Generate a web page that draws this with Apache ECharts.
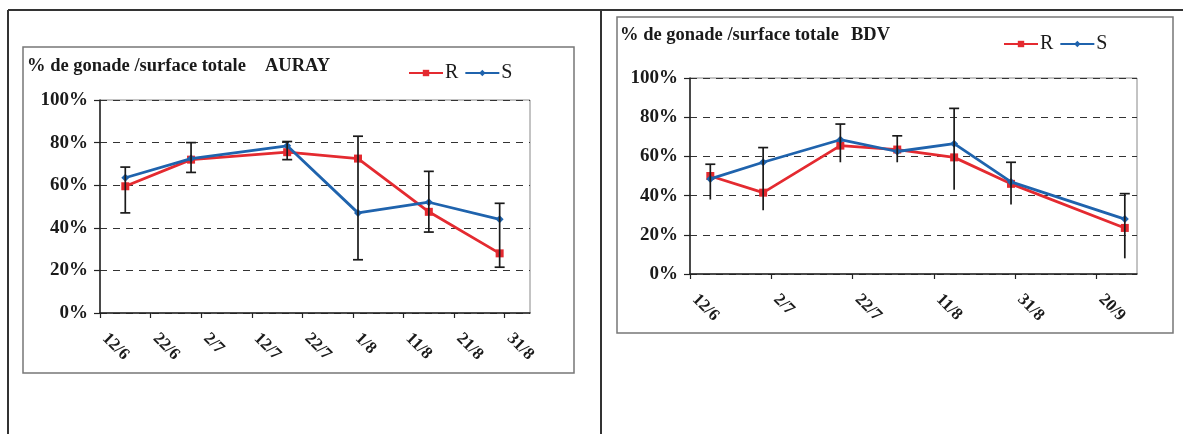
<!DOCTYPE html>
<html>
<head>
<meta charset="utf-8">
<script src="https://cdn.jsdelivr.net/npm/echarts@6/dist/echarts.min.js"></script>
<style>
html,body{margin:0;padding:0;background:#fff;}
#c{width:1183px;height:434px;}
</style>
</head>
<body>
<div id="c"></div>
<script>
// ---- Data ----
var seriesNames = ['R', 'S'];

var leftTitle = '% de gonade /surface totale';
var leftSite = 'AURAY';
var leftDates = ['17/6', '30/6', '19/7', '2/8', '16/8', '30/8'];
var leftR = [59.5, 72, 75.5, 72.5, 47.5, 28];
var leftS = [63.5, 72.5, 78.5, 47, 52, 44];
var leftErrLow = [47, 66, 72, 25, 38, 21.5];
var leftErrHigh = [68.5, 80, 80.5, 83, 66.5, 51.5];
var leftTicks = ['12/6', '22/6', '2/7', '12/7', '22/7', '1/8', '11/8', '21/8', '31/8'];

var rightTitle = '% de gonade /surface totale';
var rightSite = 'BDV';
var rightDates = ['17/6', '30/6', '19/7', '2/8', '16/8', '30/8', '27/9'];
var rightR = [50, 41.5, 65.5, 63.5, 59.5, 46, 23.5];
var rightS = [48.5, 57, 68.5, 62.5, 66.5, 47, 28];
var rightErrLow = [38, 32.5, 57, 57, 43, 35.5, 8];
var rightErrHigh = [56, 64.5, 76.5, 70.5, 84.5, 57, 41];
var rightTicks = ['12/6', '2/7', '22/7', '11/8', '31/8', '20/9'];

// ---- helpers ----
var ORIGIN = '12/6';
function dayNum(s) {
  var p = s.split('/');
  return Date.UTC(2000, +p[1] - 1, +p[0]) / 86400000;
}
function offset(s) { return dayNum(s) - dayNum(ORIGIN); }
function pairs(dates, vals) { return dates.map(function (d, i) { return [offset(d), vals[i]]; }); }
function errs(dates, lo, hi) { return dates.map(function (d, i) { return [offset(d), lo[i], hi[i]]; }); }
function tickVals(ticks) { return ticks.map(function (t) { return offset(t); }); }

var RED = '#e42a30';
var BLUE = '#1f63ad';
var SERIF = '"Liberation Serif", "DejaVu Serif", serif';

function errRender(bottomCap) {
  return function (params, api) {
    var x = api.value(0);
    var p1 = api.coord([x, api.value(1)]);
    var p2 = api.coord([x, api.value(2)]);
    var w = 5;
    var st = { stroke: '#1a1a1a', lineWidth: 1.7 };
    var ch = [
      { type: 'line', shape: { x1: p1[0], y1: p1[1], x2: p2[0], y2: p2[1] }, style: st },
      { type: 'line', shape: { x1: p2[0] - w, y1: p2[1], x2: p2[0] + w, y2: p2[1] }, style: st }
    ];
    if (bottomCap) ch.push({ type: 'line', shape: { x1: p1[0] - w, y1: p1[1], x2: p1[0] + w, y2: p1[1] }, style: st });
    return { type: 'group', children: ch };
  };
}

function xAxis(gi, ticks, max, interval) {
  var vals = tickVals(ticks);
  return {
    type: 'value', gridIndex: gi, min: 0, max: max, interval: interval,
    axisLine: { show: true, lineStyle: { color: '#222', width: 1.5 } },
    axisTick: { show: true, length: 5, customValues: vals, lineStyle: { color: '#222', width: 1.2 } },
    axisLabel: {
      customValues: vals, rotate: -45, margin: 18, padding: [0, 0, 0, 7],
      fontFamily: SERIF, fontWeight: 'bold', fontSize: 17, color: '#1a1a1a',
      formatter: function (v) { var i = vals.indexOf(v); return i >= 0 ? ticks[i] : ''; }
    },
    splitLine: { show: false }
  };
}
function yAxis(gi) {
  return {
    type: 'value', gridIndex: gi, min: 0, max: 100, interval: 20,
    axisLine: { show: true, lineStyle: { color: '#222', width: 1.5 } },
    axisTick: { show: true, length: 6, lineStyle: { color: '#222', width: 1.2 } },
    axisLabel: { fontFamily: SERIF, fontWeight: 'bold', fontSize: 19, color: '#1a1a1a', margin: 12, formatter: '{value}%' },
    splitLine: { show: true, lineStyle: { color: '#333', type: [7, 6], width: 1 } }
  };
}
function lineSeries(name, gi, data, color, symbol, size) {
  return {
    name: name, type: 'line', xAxisIndex: gi, yAxisIndex: gi, data: data,
    symbol: symbol, symbolSize: size, showSymbol: true,
    lineStyle: { color: color, width: 2.8 },
    itemStyle: { color: color },
    z: name === 'S' ? 4 : 3, animation: false
  };
}

var titleFont = 'bold 18.5px ' + SERIF;
var chart = echarts.init(document.getElementById('c'), null, { renderer: 'canvas' });
chart.setOption({
  animation: false,
  backgroundColor: '#fff',
  graphic: [
    { type: 'line', shape: { x1: 8, y1: 10, x2: 1183, y2: 10 }, style: { stroke: '#333', lineWidth: 2 } },
    { type: 'line', shape: { x1: 8, y1: 10, x2: 8, y2: 434 }, style: { stroke: '#333', lineWidth: 2 } },
    { type: 'line', shape: { x1: 601, y1: 10, x2: 601, y2: 434 }, style: { stroke: '#333', lineWidth: 2 } },
    { type: 'rect', shape: { x: 23, y: 47, width: 551, height: 326 }, style: { fill: 'none', stroke: '#777', lineWidth: 1.5 } },
    { type: 'rect', shape: { x: 617, y: 17, width: 556, height: 316 }, style: { fill: 'none', stroke: '#777', lineWidth: 1.5 } },
    { type: 'text', x: 27, y: 66, style: { text: leftTitle, font: titleFont, fill: '#1a1a1a', verticalAlign: 'middle' } },
    { type: 'text', x: 265, y: 66, style: { text: leftSite, font: titleFont, fill: '#1a1a1a', verticalAlign: 'middle' } },
    { type: 'text', x: 620, y: 35, style: { text: rightTitle, font: titleFont, fill: '#1a1a1a', verticalAlign: 'middle' } },
    { type: 'text', x: 851, y: 35, style: { text: rightSite, font: titleFont, fill: '#1a1a1a', verticalAlign: 'middle' } }
  ],
  legend: [
    {
      left: 403, top: 58, itemWidth: 34, itemHeight: 8, itemGap: 6, selectedMode: false,
      data: seriesNames, textStyle: { fontFamily: SERIF, fontSize: 20, color: '#1a1a1a', padding: [0, 0, 0, -3] }
    },
    {
      left: 998, top: 29, itemWidth: 34, itemHeight: 8, itemGap: 6, selectedMode: false,
      data: seriesNames, textStyle: { fontFamily: SERIF, fontSize: 20, color: '#1a1a1a', padding: [0, 0, 0, -3] }
    }
  ],
  grid: [
    { left: 100, top: 100, width: 430, height: 213, show: true, borderColor: '#888', borderWidth: 1, backgroundColor: '#fff' },
    { left: 690, top: 78, width: 447, height: 196, show: true, borderColor: '#888', borderWidth: 1, backgroundColor: '#fff' }
  ],
  xAxis: [xAxis(0, leftTicks, 85, 10), xAxis(1, rightTicks, 110, 20)],
  yAxis: [yAxis(0), yAxis(1)],
  series: [
    lineSeries(seriesNames[0], 0, pairs(leftDates, leftR), RED, 'rect', 8),
    lineSeries(seriesNames[1], 0, pairs(leftDates, leftS), BLUE, 'diamond', 8),
    lineSeries(seriesNames[0], 1, pairs(rightDates, rightR), RED, 'rect', 8),
    lineSeries(seriesNames[1], 1, pairs(rightDates, rightS), BLUE, 'diamond', 8),
    { type: 'custom', xAxisIndex: 0, yAxisIndex: 0, data: errs(leftDates, leftErrLow, leftErrHigh), renderItem: errRender(true), z: 6, silent: true },
    { type: 'custom', xAxisIndex: 1, yAxisIndex: 1, data: errs(rightDates, rightErrLow, rightErrHigh), renderItem: errRender(false), z: 6, silent: true }
  ]
});
</script>
</body>
</html>
